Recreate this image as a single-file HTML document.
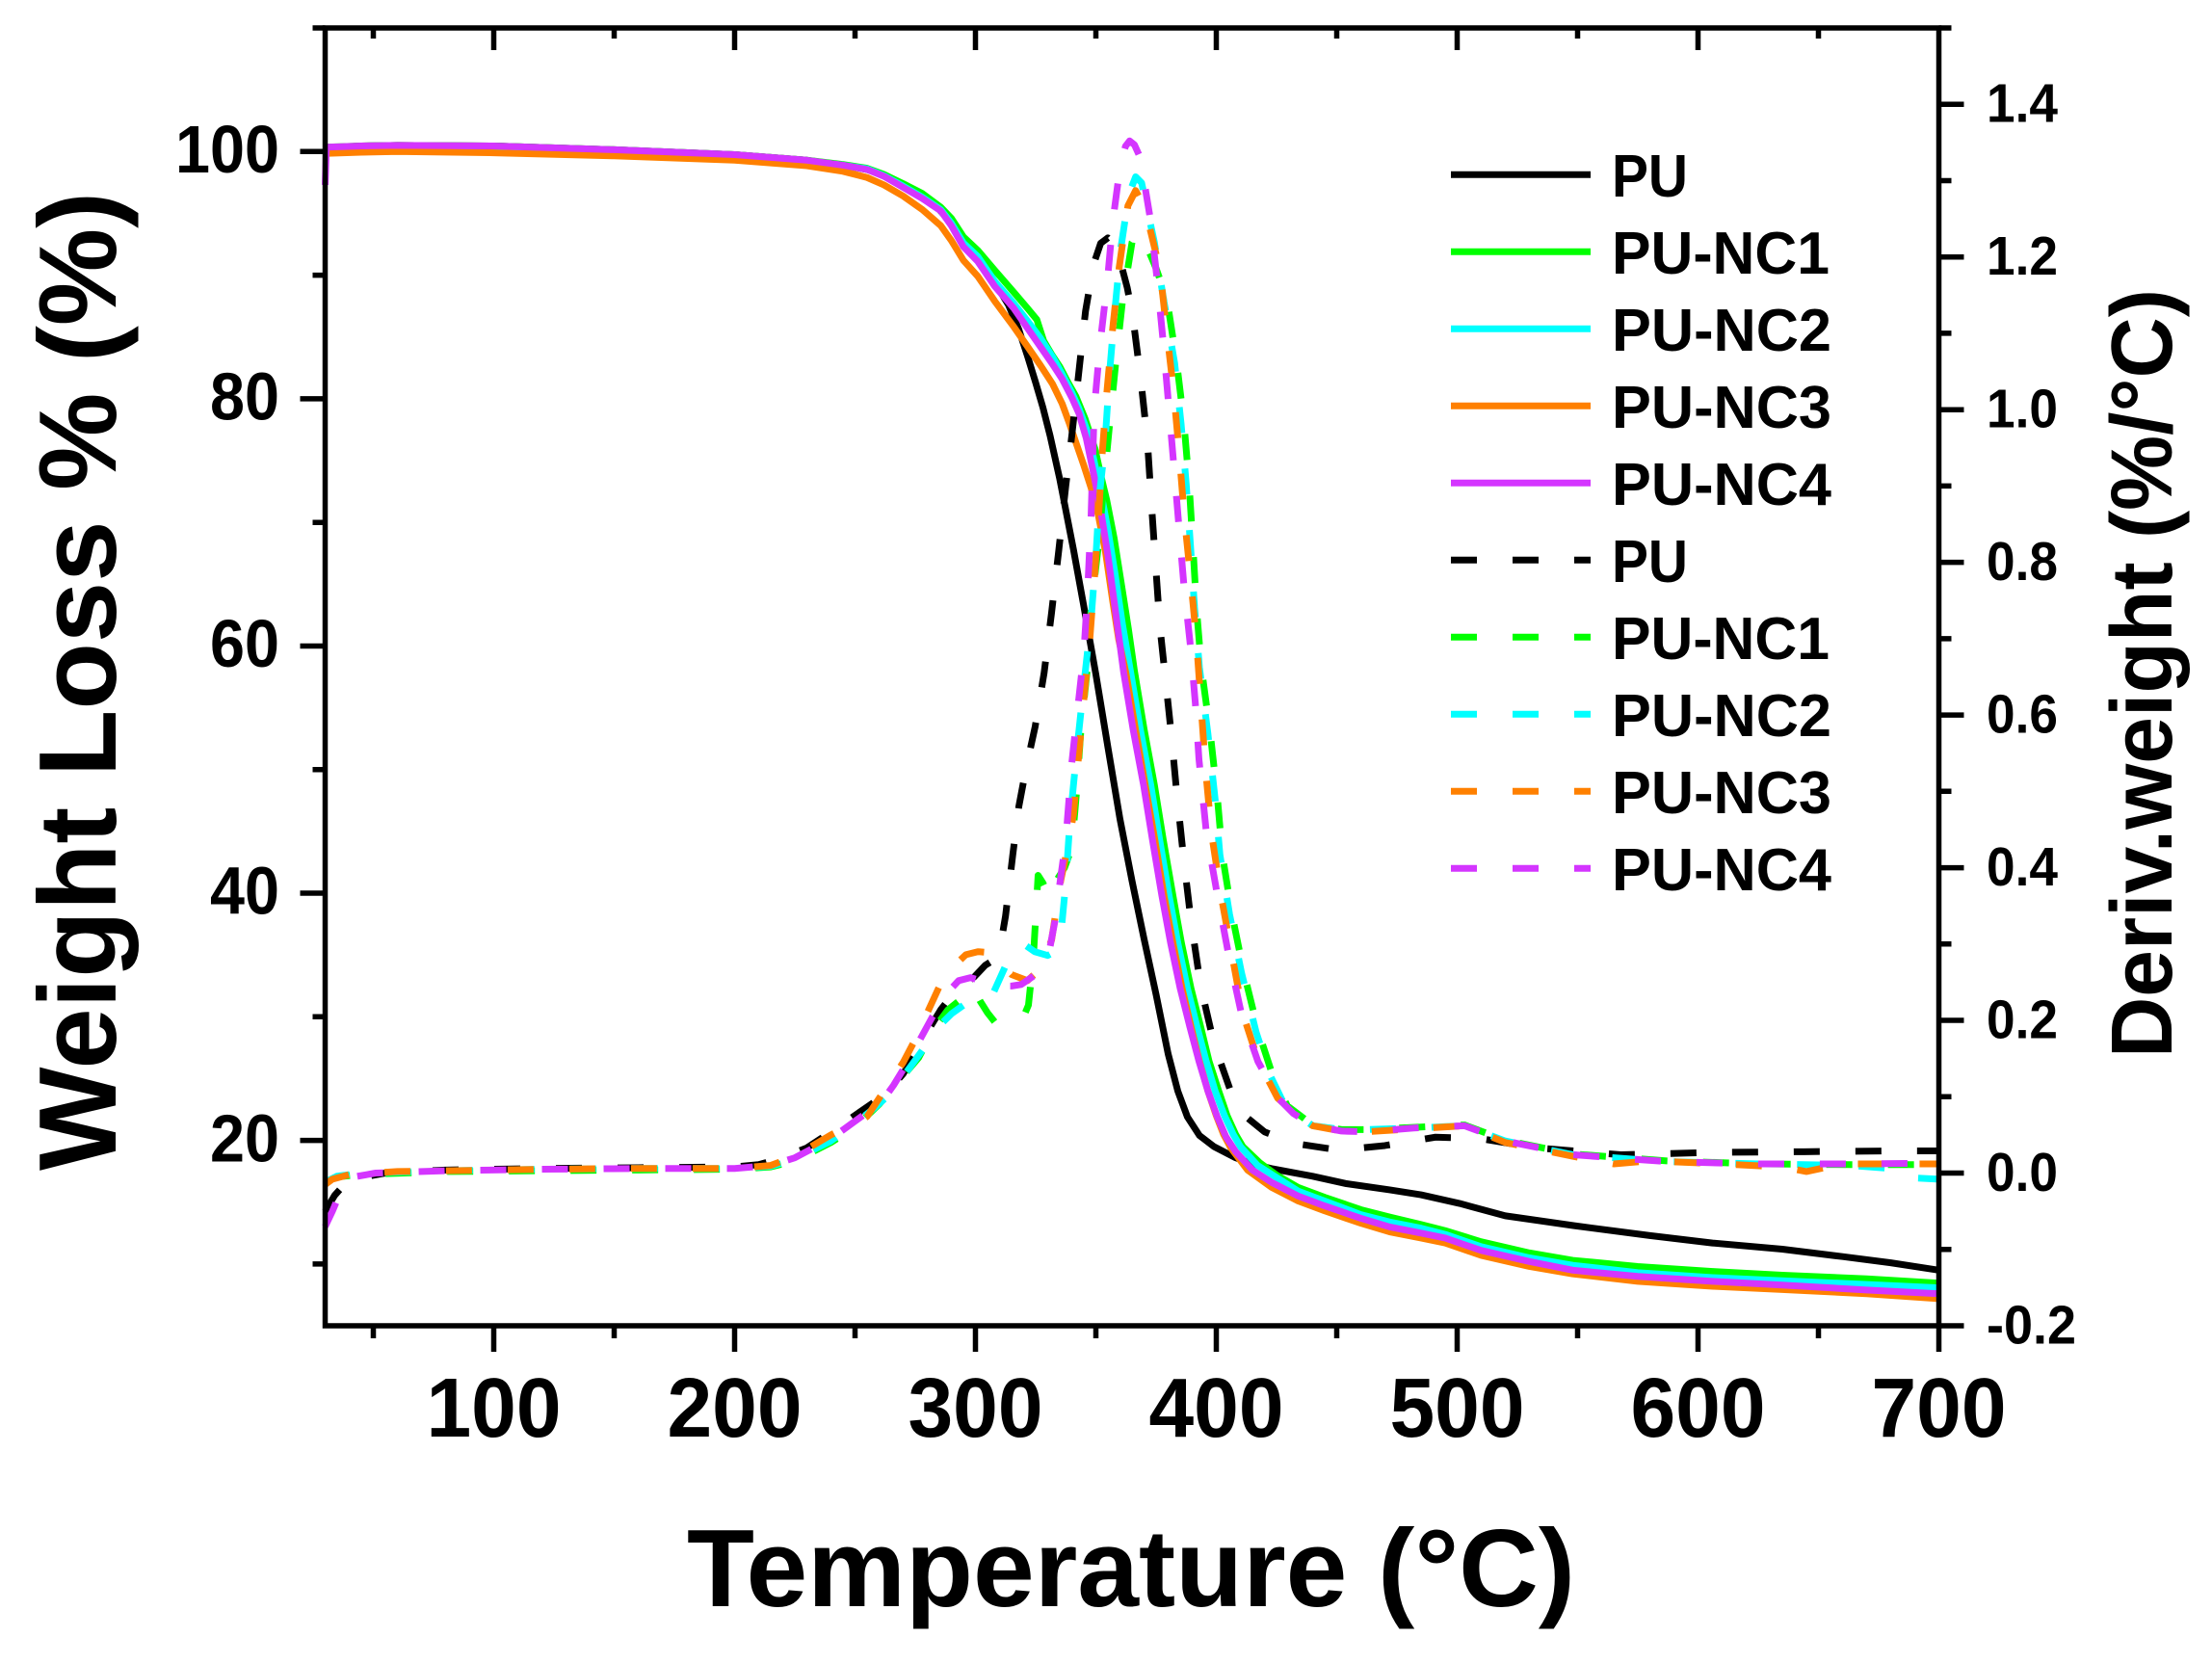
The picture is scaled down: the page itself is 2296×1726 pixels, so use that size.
<!DOCTYPE html>
<html><head><meta charset="utf-8"><style>html,body{margin:0;padding:0;background:#fff}svg{display:block}text{font-family:"Liberation Sans",Arial,sans-serif;font-weight:bold;fill:#000}</style></head>
<body>
<svg xmlns="http://www.w3.org/2000/svg" width="2296" height="1726" viewBox="0 0 2296 1726">
<rect width="2296" height="1726" fill="#fff"/>

<!-- TGA solid curves -->
<g transform="matrix(2.5 0 0 -12.829 262.5 1440.2)" fill="none" stroke-width="7" stroke-linejoin="round">
<polyline vector-effect="non-scaling-stroke" stroke="#000" points="30,100.3 45,100.45 60,100.5 100,100.45 150,100.15 200,99.75 230,99.3 245,98.9 255,98.55 262,98.1 270,97.3 278,96.4 285,95.3 290,94.2 295,92.9 301,91.4 308,89.4 313.7,87.6 318,85.6 321.7,83.4 325,81.3 328,79.3 331,77 335,73.5 340.7,67.8 345,63.2 350,57.7 355,51.8 360,46 365,41 370,36.3 375,31.8 380,27 384,24 388,21.9 393,20.4 399,19.5 408,18.6 415,18.1 423.4,17.7 440,17.1 454,16.5 472,16 485,15.6 501,14.9 520,13.9 548.6,13.1 580,12.3 606,11.7 635,11.2 660,10.6 680,10.1 700,9.5"/>
<polyline vector-effect="non-scaling-stroke" stroke="#00ff00" points="30,100.35 45,100.45 60,100.5 100,100.45 150,100.15 200,99.75 230,99.3 245,98.95 255,98.65 262,98.15 270,97.4 278,96.6 285.6,95.5 290,94.6 295,93.1 301,92 308,90.4 316,88.6 321.7,87.3 325.5,86.4 328.3,84.7 331.6,83.6 335,82.6 338.5,81.3 341.7,80.2 345.5,78.4 349.7,75.9 352.3,73.6 354.5,71.8 357.6,68.7 360.6,65 363.5,61.4 366,58 370,53.3 374.3,48.75 378,44.3 382,39.8 385.5,36 389.5,32.3 393.5,29.2 397,26.4 401,24 404.5,22 408,20.5 411,19.5 418,18.2 425,17.2 434,16.2 445,15.4 460,14.4 472,13.8 485,13.2 495,12.7 510,11.8 530,10.9 548,10.3 575,9.8 606,9.4 635,9.1 670,8.8 700,8.45"/>
<polyline vector-effect="non-scaling-stroke" stroke="#00ffff" points="30,100.3 45,100.4 60,100.45 100,100.4 150,100.1 200,99.7 230,99.25 245,98.9 255,98.6 262,98.05 270,97.2 278,96.3 285.6,95.3 290,94.2 295,92.6 301,91.5 308,89.5 316,87.7 322,86.2 327,84.9 332,83.4 336,82 340,80.5 343,79.2 346,77.6 349,75.2 352,72.5 355,69.4 358,65.8 361,61.8 364.5,57.8 368.5,53.2 372.8,48.75 376.5,44.3 380.4,39.8 384,36 388,32.3 392,29.2 395.8,26.4 399.5,24 403.4,22 407,20.5 410,19.5 417,18 425,17 434,15.9 445,15.1 460,14 472,13.4 485,12.9 495,12.4 510,11.4 530,10.5 548,9.9 575,9.3 606,8.9 635,8.65 670,8.35 700,8.07"/>
<polyline vector-effect="non-scaling-stroke" stroke="#ff8000" points="30,99.85 45,99.95 60,100 100,99.9 150,99.65 200,99.3 230,98.85 245,98.4 255,97.9 262,97.3 270,96.4 278,95.3 285.6,94 290,92.8 295,91.2 301,89.9 308,87.9 316,85.8 321.7,84.2 327,82.7 332,81.2 336,79.6 339,78 342,76.3 345,74.6 348,72.8 351,70.6 354,67.6 357,63.6 359.5,60.5 362.5,57.8 366.5,53.2 370.5,48.75 374.5,44.3 378.3,39.8 382,36 385.8,32.3 389.5,29.2 393,26.4 396.5,24 400,22 403,20.5 406,19.4 413,17.6 423,16.2 434,15.1 445,14.3 460,13.3 472,12.6 485,12.1 495,11.7 510,10.7 530,9.8 548,9.2 575,8.6 606,8.2 635,7.94 670,7.6 700,7.2"/>
<polyline vector-effect="non-scaling-stroke" stroke="#d435ff" points="30,97.3 30.5,100.35 45,100.45 60,100.5 100,100.45 150,100.15 200,99.75 230,99.3 245,98.9 255,98.55 262,98 270,97.1 278,96.2 285.6,95.2 290,94 295,92.3 301,91.1 308,89.1 316,87.3 322,85.6 327,84.2 332,82.8 336,81.6 340,80.1 343,78.8 346,76.8 349,74 352,71 355,67.3 358,63 361.5,57.9 365.5,53.2 369.8,48.75 373.5,44.3 377.4,39.8 381,36 385,32.3 389,29.2 392.8,26.4 396.5,24 400.4,21.9 404,20.3 408,19.1 415,17.6 423,16.6 434,15.5 445,14.7 460,13.7 472,13 485,12.5 495,12.1 510,11.1 530,10.2 548,9.5 575,9 606,8.6 635,8.3 670,7.9 700,7.6"/>
</g>

<!-- DTG dashed curves -->
<g transform="matrix(2.5 0 0 -792.35 262.5 1217.5)" fill="none" stroke-width="7" stroke-dasharray="27 37" stroke-linejoin="round">
<polyline vector-effect="non-scaling-stroke" stroke="#000" points="30,-0.05 34,-0.029 38,-0.015 43,-0.007 55,0 80,0.004 120,0.006 160,0.007 200,0.008 210,0.011 218,0.018 230,0.033 242,0.058 252,0.08 262.6,0.103 270,0.13 275,0.156 280,0.185 285.6,0.214 292,0.24 299.5,0.257 304,0.272 308,0.28 310.5,0.3 312.5,0.337 315.5,0.417 318,0.48 321,0.53 324.8,0.585 328.5,0.655 331.6,0.734 334.6,0.816 337.5,0.9 340,0.966 342.6,1.04 345.7,1.129 349,1.19 352,1.218 355,1.225 358,1.215 360.5,1.19 363,1.16 365.3,1.123 368.7,1.038 371.4,0.959 373,0.88 374.8,0.797 376.6,0.715 378.8,0.65 381.3,0.575 383.5,0.5 386.5,0.41 389.5,0.33 393.5,0.245 399,0.17 406,0.107 413,0.072 420,0.054 432,0.039 451,0.03 470,0.036 491,0.047 510,0.045 533,0.033 568,0.024 606,0.027 644,0.028 680,0.029 700,0.029"/>
<polyline vector-effect="non-scaling-stroke" stroke="#00ff00" points="30,-0.012 35,-0.005 45,-0.002 80,0.002 120,0.003 160,0.004 200,0.005 215,0.008 225,0.016 240,0.04 250,0.06 260,0.09 268,0.12 276.4,0.151 283,0.19 288.6,0.214 293,0.225 296.5,0.242 299.5,0.24 302,0.225 305,0.21 308,0.198 312,0.195 316,0.198 320,0.205 322,0.22 324,0.28 326,0.39 328,0.38 331,0.36 334,0.385 337,0.4 340,0.426 342,0.5 343.8,0.581 346.5,0.662 348,0.739 351,0.821 353.5,0.908 355.7,0.981 358.3,1.063 361,1.141 365,1.219 367.8,1.232 370.7,1.217 375,1.185 379.5,1.145 383.5,1.063 386.5,0.985 388.7,0.903 390.3,0.821 391.8,0.739 393.8,0.662 397.5,0.576 400.5,0.49 402.5,0.417 406.5,0.339 411.5,0.262 417.5,0.185 423.5,0.127 429.5,0.088 440,0.063 452,0.057 463,0.057 483,0.06 503,0.063 520,0.043 548,0.025 587,0.016 625,0.012 663,0.011 700,0.011"/>
<polyline vector-effect="non-scaling-stroke" stroke="#00ffff" points="30,-0.012 35,-0.004 45,0 80,0.003 120,0.005 160,0.006 200,0.006 215,0.009 225,0.018 240,0.042 250,0.065 258,0.085 265.7,0.107 272,0.135 278,0.161 284,0.19 290.2,0.209 296,0.222 301,0.23 307,0.233 312,0.268 316,0.295 320,0.3 324.6,0.29 330,0.285 333,0.29 335.4,0.31 337.5,0.38 339.2,0.46 342.2,0.557 345,0.64 348,0.725 350,0.807 351.5,0.889 353.7,0.952 355.7,1.049 357.7,1.124 360.3,1.21 363.7,1.282 366.5,1.305 369,1.297 374.3,1.219 378.3,1.141 382.7,1.061 385.4,0.981 387.5,0.903 389.3,0.821 391,0.739 393,0.662 396.5,0.576 399.5,0.49 401.5,0.417 405.5,0.339 410.5,0.262 416.5,0.185 422.5,0.127 428.5,0.088 440,0.062 452,0.057 463,0.057 483,0.059 503,0.062 520,0.042 548,0.024 587,0.015 625,0.012 663,0.01 680,0.006 688,-0.006 700,-0.008"/>
<polyline vector-effect="non-scaling-stroke" stroke="#ff8000" points="30,-0.015 33,-0.008 40,-0.002 60,0.002 100,0.004 150,0.006 200,0.006 215,0.01 225,0.022 240,0.05 255,0.074 264,0.117 270,0.145 275,0.175 280,0.21 284.8,0.243 290,0.268 296,0.286 301,0.29 305,0.289 309,0.28 315,0.26 321.6,0.252 326,0.265 331.6,0.305 335.4,0.383 338.5,0.43 340.7,0.47 343,0.552 345.3,0.63 347.5,0.7 349.5,0.783 351.2,0.865 352.7,0.946 354.7,1.028 357,1.107 359.7,1.187 363.3,1.267 366.5,1.287 370.3,1.265 376.6,1.183 379.4,1.103 382.3,1.023 384.6,0.943 386.7,0.86 389.3,0.78 391.7,0.7 393.5,0.62 395.5,0.53 398,0.445 402,0.363 406.5,0.286 411,0.209 417.5,0.146 425.5,0.098 432,0.08 440,0.062 452,0.055 462,0.054 482,0.058 503,0.062 520,0.04 548,0.022 565,0.012 580,0.016 610,0.012 635,0.008 645,0.002 660,0.012 700,0.012"/>
<polyline vector-effect="non-scaling-stroke" stroke="#d435ff" points="30,-0.07 33,-0.05 37,-0.02 42,-0.005 51,0 80,0.003 120,0.005 160,0.006 200,0.006 215,0.01 225,0.02 240,0.045 250,0.068 261,0.093 266,0.115 272,0.146 277,0.175 282,0.204 288,0.235 293,0.252 298,0.256 302,0.252 306,0.248 310,0.245 315,0.245 319,0.247 325,0.26 330,0.28 333,0.33 335.5,0.39 337.5,0.436 340,0.537 342.5,0.61 345,0.681 346.5,0.758 348,0.86 349.3,1 351.7,1.085 354.7,1.166 357,1.246 360.3,1.324 362.3,1.345 364,1.352 366,1.347 368.3,1.331 370.5,1.29 372.6,1.25 375.4,1.171 377.9,1.09 380.1,1.01 382.3,0.929 384.4,0.85 386.6,0.768 389.4,0.686 391.3,0.615 392.8,0.542 395.9,0.445 400.5,0.363 405.1,0.286 410.4,0.209 417.3,0.146 425.7,0.098 432,0.078 440.3,0.062 452,0.055 462,0.054 482,0.059 503,0.062 520,0.042 548,0.024 587,0.015 625,0.012 663,0.012 700,0.013"/>
</g>

<!-- Axes frame -->
<rect x="337.5" y="29" width="1675" height="1347" fill="none" stroke="#000" stroke-width="5.5"/>
<!-- ticks -->
<path fill="none" stroke="#000" stroke-width="5.5" d="
M512.5 1376V1403 M762.5 1376V1403 M1012.5 1376V1403 M1262.5 1376V1403 M1512.5 1376V1403 M1762.5 1376V1403 M2012.5 1376V1403
M387.5 1376V1389 M637.5 1376V1389 M887.5 1376V1389 M1137.5 1376V1389 M1387.5 1376V1389 M1637.5 1376V1389 M1887.5 1376V1389
M512.5 29V52 M762.5 29V52 M1012.5 29V52 M1262.5 29V52 M1512.5 29V52 M1762.5 29V52
M387.5 29V40 M637.5 29V40 M887.5 29V40 M1137.5 29V40 M1387.5 29V40 M1637.5 29V40 M1887.5 29V40
M337.5 1183.6H311.5 M337.5 927H311.5 M337.5 670.5H311.5 M337.5 413.9H311.5 M337.5 157.3H311.5
M337.5 1311.9H324.5 M337.5 1055.3H324.5 M337.5 798.8H324.5 M337.5 542.2H324.5 M337.5 285.6H324.5 M337.5 29H324.5
M2012.5 1376H2038.5 M2012.5 1217.5H2038.5 M2012.5 1059H2038.5 M2012.5 900.6H2038.5 M2012.5 742.1H2038.5 M2012.5 583.6H2038.5 M2012.5 425.2H2038.5 M2012.5 266.7H2038.5 M2012.5 108.2H2038.5
M2012.5 1296.7H2025.5 M2012.5 1138.3H2025.5 M2012.5 979.8H2025.5 M2012.5 821.3H2025.5 M2012.5 662.9H2025.5 M2012.5 504.4H2025.5 M2012.5 345.9H2025.5 M2012.5 187.5H2025.5 M2012.5 29H2025.5"/>

<!-- Left tick labels -->
<g font-size="70">
<text x="182" y="179" textLength="108" lengthAdjust="spacingAndGlyphs">100</text>
<text x="218" y="435.6" textLength="72" lengthAdjust="spacingAndGlyphs">80</text>
<text x="218" y="692.2" textLength="72" lengthAdjust="spacingAndGlyphs">60</text>
<text x="218" y="948.7" textLength="72" lengthAdjust="spacingAndGlyphs">40</text>
<text x="218" y="1205.3" textLength="72" lengthAdjust="spacingAndGlyphs">20</text>
</g>
<!-- Right tick labels -->
<g font-size="57">
<text x="2062" y="126.7" textLength="74" lengthAdjust="spacingAndGlyphs">1.4</text>
<text x="2062" y="285.2" textLength="74" lengthAdjust="spacingAndGlyphs">1.2</text>
<text x="2062" y="443.7" textLength="74" lengthAdjust="spacingAndGlyphs">1.0</text>
<text x="2062" y="602.1" textLength="74" lengthAdjust="spacingAndGlyphs">0.8</text>
<text x="2062" y="760.6" textLength="74" lengthAdjust="spacingAndGlyphs">0.6</text>
<text x="2062" y="919.1" textLength="74" lengthAdjust="spacingAndGlyphs">0.4</text>
<text x="2062" y="1077.5" textLength="74" lengthAdjust="spacingAndGlyphs">0.2</text>
<text x="2062" y="1236" textLength="74" lengthAdjust="spacingAndGlyphs">0.0</text>
<text x="2062" y="1394.5" textLength="93" lengthAdjust="spacingAndGlyphs">-0.2</text>
</g>
<!-- Bottom tick labels -->
<g font-size="87">
<text x="442.5" y="1491" textLength="140" lengthAdjust="spacingAndGlyphs">100</text>
<text x="692.5" y="1491" textLength="140" lengthAdjust="spacingAndGlyphs">200</text>
<text x="942.5" y="1491" textLength="140" lengthAdjust="spacingAndGlyphs">300</text>
<text x="1192.5" y="1491" textLength="140" lengthAdjust="spacingAndGlyphs">400</text>
<text x="1442.5" y="1491" textLength="140" lengthAdjust="spacingAndGlyphs">500</text>
<text x="1692.5" y="1491" textLength="140" lengthAdjust="spacingAndGlyphs">600</text>
<text x="1942.5" y="1491" textLength="140" lengthAdjust="spacingAndGlyphs">700</text>
</g>

<!-- Axis titles -->
<text x="713" y="1667" font-size="114" textLength="922" lengthAdjust="spacingAndGlyphs">Temperature (°C)</text>
<text transform="translate(120,1215) rotate(-90)" x="0" y="0" font-size="114" textLength="1016" lengthAdjust="spacingAndGlyphs">Weight Loss % (%)</text>
<text transform="translate(2254,1098) rotate(-90)" x="0" y="0" font-size="90" textLength="798" lengthAdjust="spacingAndGlyphs">Deriv.weight (%/°C)</text>

<!-- Legend -->
<g fill="none" stroke-width="7">
<line x1="1506" y1="181.3" x2="1651" y2="181.3" stroke="#000"/>
<line x1="1506" y1="261.3" x2="1651" y2="261.3" stroke="#00ff00"/>
<line x1="1506" y1="341.3" x2="1651" y2="341.3" stroke="#00ffff"/>
<line x1="1506" y1="421.3" x2="1651" y2="421.3" stroke="#ff8000"/>
<line x1="1506" y1="501.3" x2="1651" y2="501.3" stroke="#d435ff"/>
<g stroke-dasharray="27 37">
<line x1="1506" y1="581.3" x2="1651" y2="581.3" stroke="#000"/>
<line x1="1506" y1="661.3" x2="1651" y2="661.3" stroke="#00ff00"/>
<line x1="1506" y1="741.3" x2="1651" y2="741.3" stroke="#00ffff"/>
<line x1="1506" y1="821.3" x2="1651" y2="821.3" stroke="#ff8000"/>
<line x1="1506" y1="901.3" x2="1651" y2="901.3" stroke="#d435ff"/>
</g>
</g>
<g font-size="62">
<text x="1673" y="203.8" textLength="79" lengthAdjust="spacingAndGlyphs">PU</text>
<text x="1673" y="283.8" textLength="226" lengthAdjust="spacingAndGlyphs">PU-NC1</text>
<text x="1673" y="363.8" textLength="228" lengthAdjust="spacingAndGlyphs">PU-NC2</text>
<text x="1673" y="443.8" textLength="228" lengthAdjust="spacingAndGlyphs">PU-NC3</text>
<text x="1673" y="523.8" textLength="228" lengthAdjust="spacingAndGlyphs">PU-NC4</text>
<text x="1673" y="603.8" textLength="79" lengthAdjust="spacingAndGlyphs">PU</text>
<text x="1673" y="683.8" textLength="226" lengthAdjust="spacingAndGlyphs">PU-NC1</text>
<text x="1673" y="763.8" textLength="228" lengthAdjust="spacingAndGlyphs">PU-NC2</text>
<text x="1673" y="843.8" textLength="228" lengthAdjust="spacingAndGlyphs">PU-NC3</text>
<text x="1673" y="923.8" textLength="228" lengthAdjust="spacingAndGlyphs">PU-NC4</text>
</g>
</svg>
</body></html>
